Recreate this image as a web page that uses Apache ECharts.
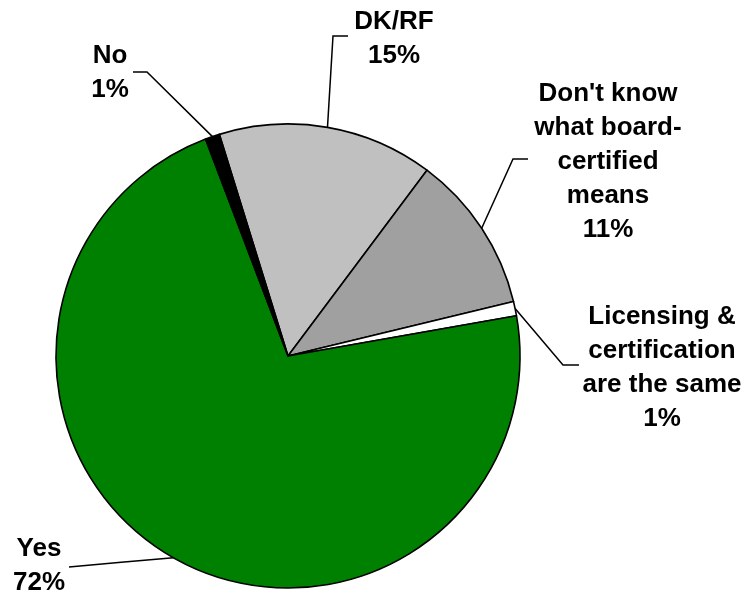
<!DOCTYPE html>
<html>
<head>
<meta charset="utf-8">
<script src="https://cdn.jsdelivr.net/npm/echarts@6/dist/echarts.min.js"></script>
<style>
  html, body { margin: 0; padding: 0; background: #fff; }
  #chart { width: 751px; height: 594px; }
</style>
</head>
<body>
<div id="chart"></div>
<script>
// Answers, in clockwise order starting from the DK/RF slice
const categories = [
  'DK/RF',
  "Don't know\nwhat board-\ncertified\nmeans",
  'Licensing &\ncertification\nare the same',
  'Yes',
  'No'
];
const shares = [15, 11, 1, 72, 1];
const sliceColors = ['#c0c0c0', '#a0a0a0', '#ffffff', '#008000', '#000000'];

// Label placement: text centre and the elbow / end of each leader line
// (a null elbow means a straight leader)
const labelCenters = [[394, 39], [608, 162], [662, 368], [39, 566], [110, 73]];
const leaderBends = [[333, 36], [513, 159], [563, 365], null, [147, 72]];
const leaderEnds = [[348, 36], [528, 159], [579, 365], [69, 567], [133, 72]];

const cx = 288, cy = 356, r = 232, startAngle = 107.2;

const chart = echarts.init(document.getElementById('chart'), null, { renderer: 'canvas' });

chart.setOption({
  backgroundColor: '#ffffff',
  animation: false,
  series: [{
    type: 'pie',
    center: [cx, cy],
    radius: r,
    startAngle: startAngle,
    clockwise: true,
    avoidLabelOverlap: false,
    data: categories.map((name, i) => ({
      name: name,
      value: shares[i],
      itemStyle: { color: sliceColors[i] }
    })),
    itemStyle: { borderColor: '#000', borderWidth: 1.6 },
    emphasis: { disabled: true },
    label: {
      show: true,
      formatter: '{b}\n{c}%',
      fontFamily: 'Liberation Sans, Arial, sans-serif',
      fontWeight: 'bold',
      fontSize: 26,
      lineHeight: 34,
      color: '#000',
      align: 'center'
    },
    labelLine: {
      show: true,
      length: 20,
      length2: 20,
      lineStyle: { color: '#000', width: 1.5 }
    },
    labelLayout: function (params) {
      const i = params.dataIndex;
      const edge = (params.labelLinePoints && params.labelLinePoints[0]) || [cx, cy];
      const end = leaderEnds[i];
      const bend = leaderBends[i] || [(edge[0] + end[0]) / 2, (edge[1] + end[1]) / 2];
      return {
        x: labelCenters[i][0],
        y: labelCenters[i][1],
        align: 'center',
        verticalAlign: 'middle',
        labelLinePoints: [edge, bend, end]
      };
    }
  }]
});
</script>
</body>
</html>
